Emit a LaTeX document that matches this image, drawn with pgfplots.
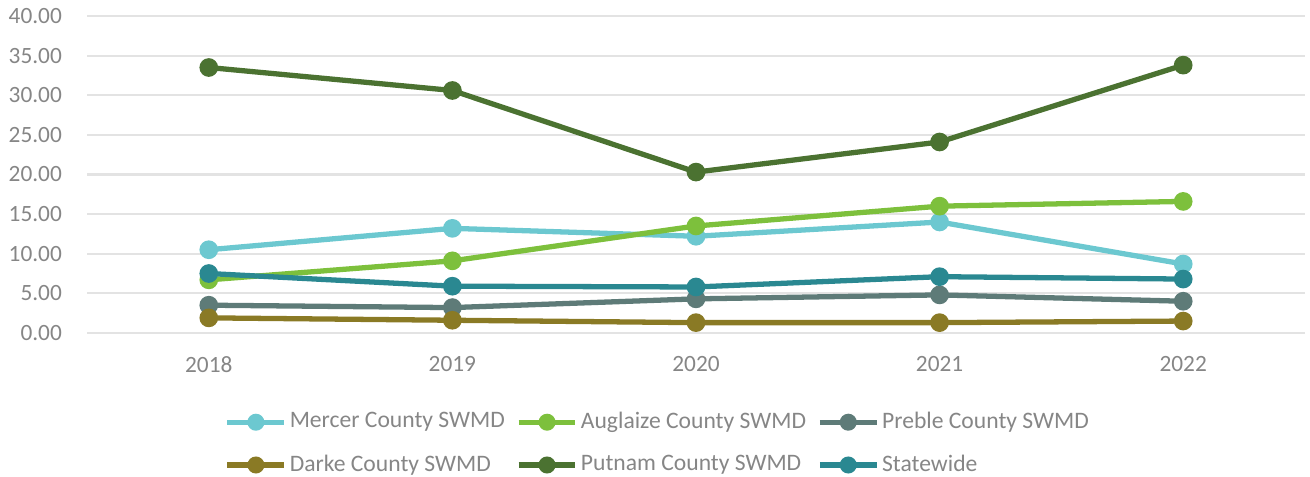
\documentclass[border=0pt]{standalone}
\usepackage{pgfplots}
\pgfplotsset{compat=1.18}
\usepackage{fontspec}
\setmainfont{Carlito}
\definecolor{txt}{HTML}{868686}
\definecolor{gridc}{HTML}{E3E3E3}
\definecolor{mercer}{HTML}{6CC8D0}
\definecolor{auglaize}{HTML}{7DC03C}
\definecolor{preble}{HTML}{5E7B78}
\definecolor{darke}{HTML}{8A7A25}
\definecolor{putnam}{HTML}{4B7231}
\definecolor{statewide}{HTML}{2A8891}
\begin{document}
\begin{tikzpicture}
\begin{axis}[
  scale only axis,
  width=438.5pt, height=114.1pt,
  xmin=2017.5, xmax=2022.5,
  ymin=0, ymax=40,
  xtick={2018,2019,2020,2021,2022},
  xticklabels={2018,2019,2020,2021,2022},
  ytick={0,5,10,15,20,25,30,35,40},
  yticklabel={\pgfmathprintnumber[fixed,fixed zerofill,precision=2,assume math mode=true]{\tick}},
  ymajorgrids, xmajorgrids=false,
  grid style={draw=gridc, line width=0.8pt},
  axis line style={draw=none},
  major tick length=0pt,
  tick label style={font=\fontsize{8.4}{10}\selectfont, text=txt},
  yticklabel style={xshift=-5.5pt},
  xticklabel style={yshift=-5pt},
  every axis plot/.append style={line width=1.9pt, mark=*, mark size=2.4pt},
  legend columns=3,
  legend style={draw=none, fill=none, at={(0.469,-0.23)}, anchor=north,
    font=\fontsize{8.5}{10}\selectfont, text=txt,
    nodes={inner xsep=1pt, inner ysep=2pt},
    /tikz/every even column/.append style={column sep=3pt},
    row sep=4pt, inner sep=0pt},
  legend cell align=left,
  legend image code/.code={\draw[mark repeat=2,mark phase=2,mark size=2.1pt] plot coordinates {(0cm,0cm)(0.36cm,0cm)(0.72cm,0cm)};},
]
\addplot[color=mercer, mark options={fill=mercer}] coordinates {(2018,10.5)(2019,13.2)(2020,12.2)(2021,14.0)(2022,8.7)};
\addlegendentry{Mercer County SWMD}
\addplot[color=auglaize, mark options={fill=auglaize}] coordinates {(2018,6.7)(2019,9.1)(2020,13.5)(2021,16.0)(2022,16.6)};
\addlegendentry{Auglaize County SWMD}
\addplot[color=preble, mark options={fill=preble}] coordinates {(2018,3.5)(2019,3.2)(2020,4.3)(2021,4.8)(2022,4.0)};
\addlegendentry{Preble County SWMD}
\addplot[color=darke, mark options={fill=darke}] coordinates {(2018,1.9)(2019,1.6)(2020,1.3)(2021,1.3)(2022,1.5)};
\addlegendentry{Darke County SWMD}
\addplot[color=putnam, mark options={fill=putnam}] coordinates {(2018,33.5)(2019,30.6)(2020,20.3)(2021,24.1)(2022,33.8)};
\addlegendentry{Putnam County SWMD}
\addplot[color=statewide, mark options={fill=statewide}] coordinates {(2018,7.5)(2019,5.9)(2020,5.8)(2021,7.1)(2022,6.8)};
\addlegendentry{Statewide}
\coordinate (ll) at (rel axis cs:0,0);
\coordinate (ur) at (rel axis cs:1,1);
\end{axis}
\pgfresetboundingbox
\useasboundingbox ([shift={(-31.32pt,-51.84pt)}]ll) rectangle ([shift={(1.8pt,5.76pt)}]ur);
\end{tikzpicture}
\end{document}
